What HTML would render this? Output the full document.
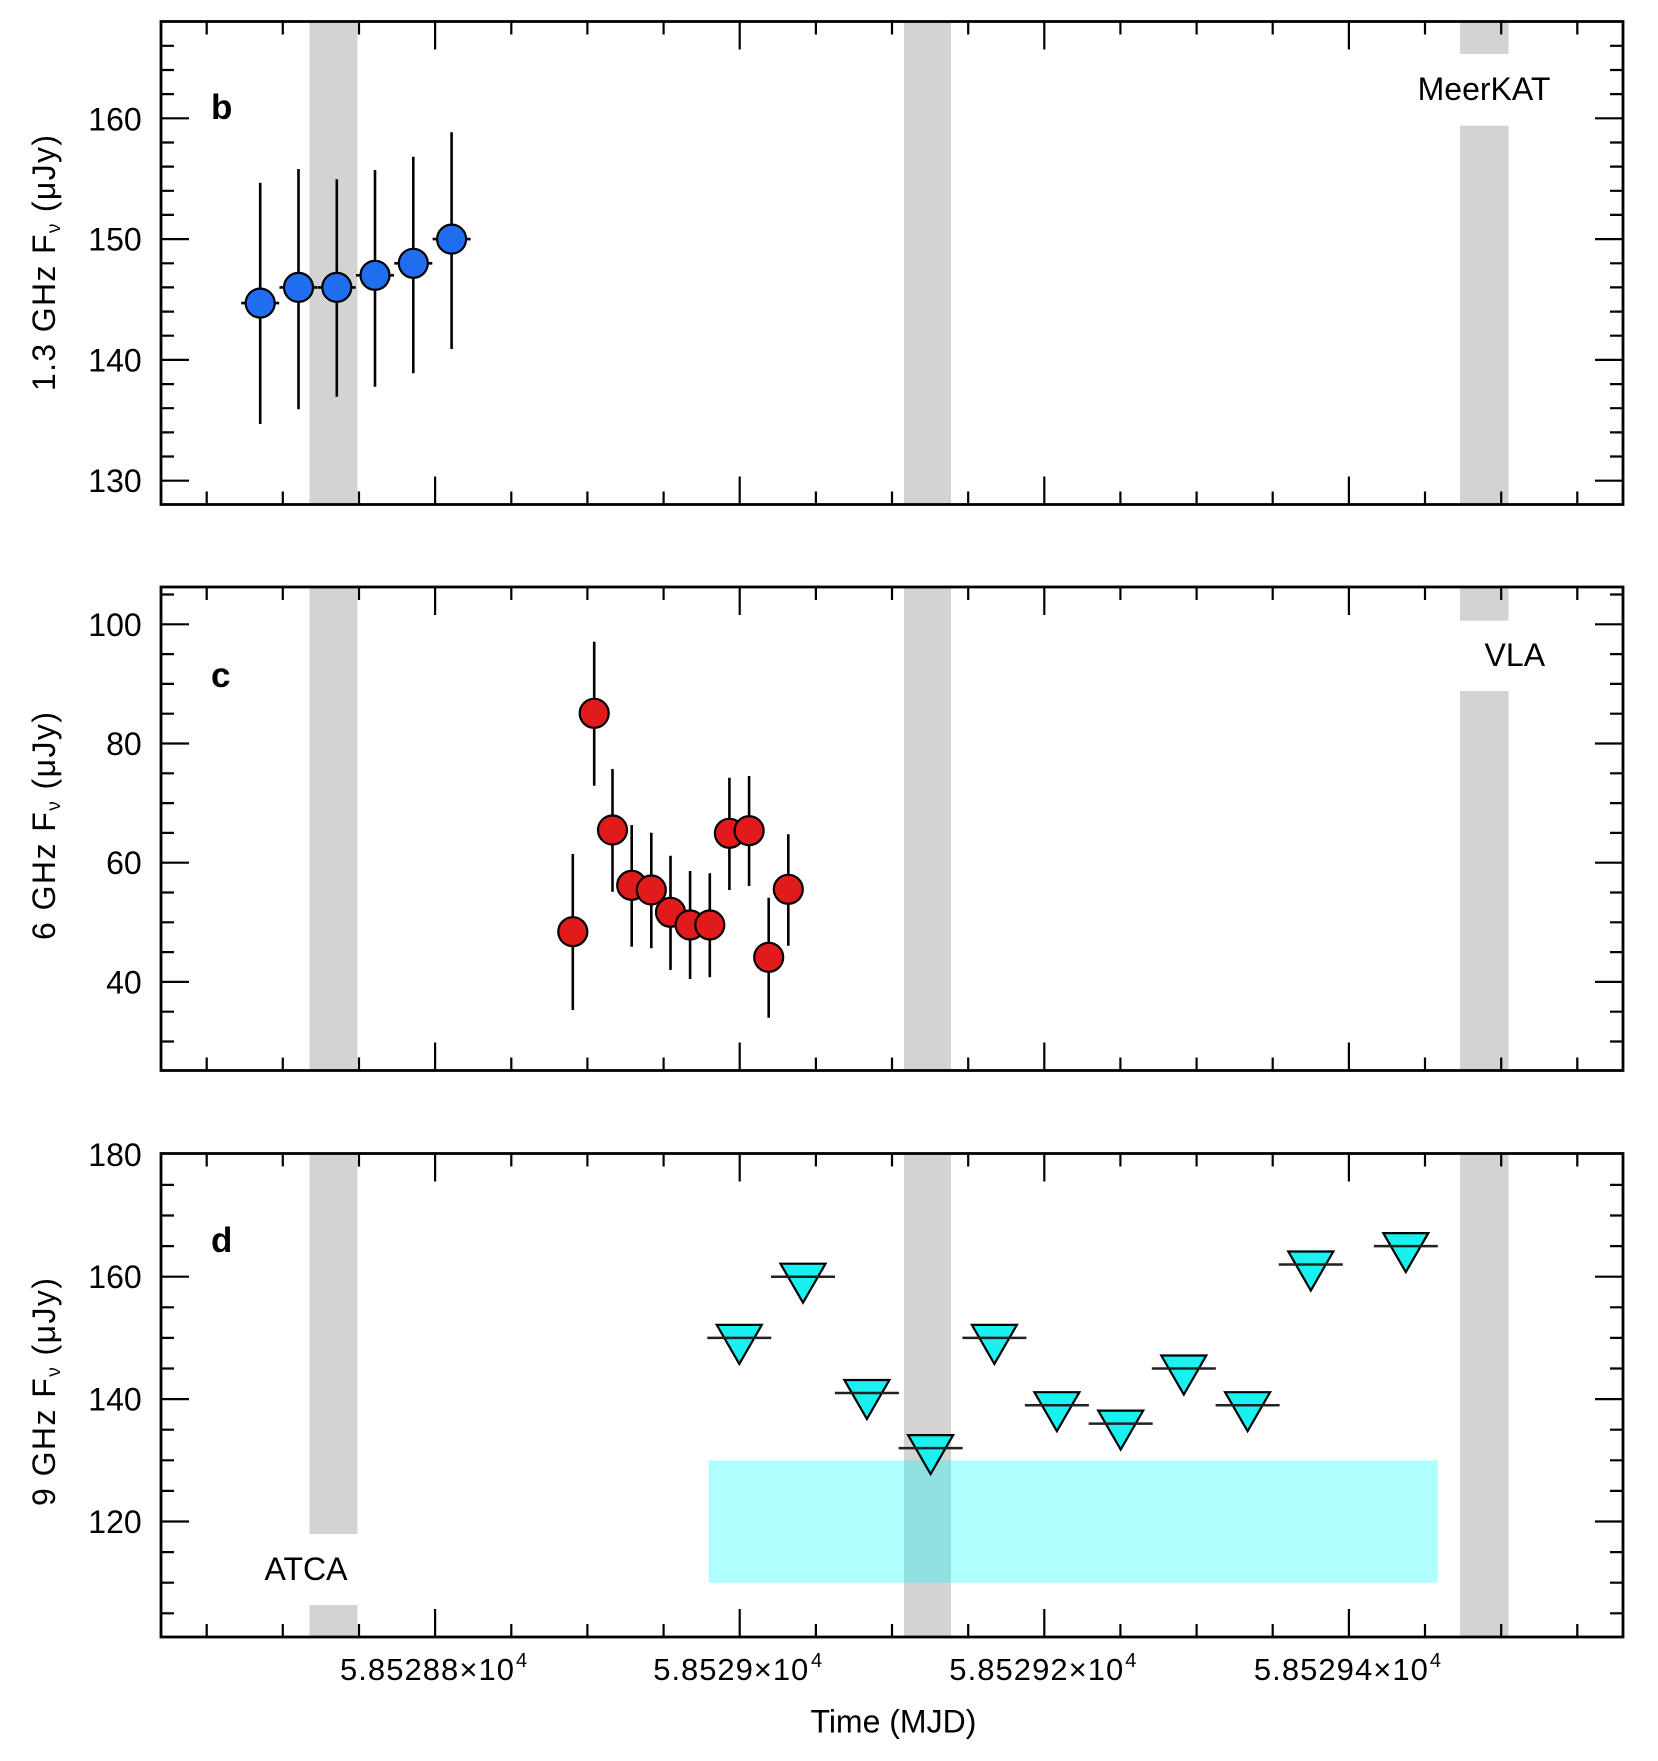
<!DOCTYPE html>
<html>
<head>
<meta charset="utf-8">
<style>
  html, body { margin: 0; padding: 0; background: #ffffff; }
  svg { display: block; }
  text { font-family: "Liberation Sans", Arial, sans-serif; fill: #000; }
</style>
</head>
<body>
<svg width="1658" height="1761" viewBox="0 0 1658 1761" xmlns="http://www.w3.org/2000/svg">
  <defs>
    <path id="xt" fill="none" stroke="#000" stroke-width="2.2" d="M206.7 0v13M282.8 0v13M359 0v13M435.1 0v28M511.3 0v13M587.4 0v13M663.6 0v13M739.7 0v28M815.9 0v13M892 0v13M968.2 0v13M1044.3 0v28M1120.4 0v13M1196.6 0v13M1272.7 0v13M1348.9 0v28M1425 0v13M1501.2 0v13M1577.3 0v13"/>
    <path id="yb" fill="none" stroke="#000" stroke-width="2.2" d="M0 480.7h28M0 456.5h13M0 432.4h13M0 408.2h13M0 384.1h13M0 359.9h28M0 335.7h13M0 311.6h13M0 287.4h13M0 263.3h13M0 239.1h28M0 214.9h13M0 190.8h13M0 166.6h13M0 142.5h13M0 118.3h28M0 94.1h13M0 70h13M0 45.8h13"/>
    <path id="yc" fill="none" stroke="#000" stroke-width="2.2" d="M0 1041.5h13M0 1011.7h13M0 981.9h28M0 952.1h13M0 922.3h13M0 892.5h13M0 862.7h28M0 832.9h13M0 803.1h13M0 773.3h13M0 743.5h28M0 713.7h13M0 683.9h13M0 654.1h13M0 624.3h28M0 594.5h13"/>
    <path id="yd" fill="none" stroke="#000" stroke-width="2.2" d="M0 1613.3h13M0 1582.7h13M0 1552.1h13M0 1521.5h28M0 1490.9h13M0 1460.3h13M0 1429.7h13M0 1399.1h28M0 1368.5h13M0 1337.9h13M0 1307.3h13M0 1276.7h28M0 1246.1h13M0 1215.5h13M0 1184.9h13"/>
  </defs>

  <!-- ================= PANEL b ================= -->
  <g fill="#d3d3d3">
    <rect x="309.5" y="21.5" width="48" height="483"/>
    <rect x="904" y="21.5" width="47" height="483"/>
    <rect x="1460" y="21.5" width="48.5" height="32.5"/>
    <rect x="1460" y="125.7" width="48.5" height="378.8"/>
  </g>
  <text x="1484" y="100" font-size="32" text-anchor="middle">MeerKAT</text>
  <g stroke="#000" stroke-width="2.6" fill="none">
    <path d="M260.2 182.7V424M241.2 303.1h38"/>
    <path d="M298.5 169V409.3M279.5 287.4h38"/>
    <path d="M336.8 179.3V396.7M317.8 287.4h38"/>
    <path d="M375 170V386.7M356 275.3h38"/>
    <path d="M413.3 156.7V373.3M394.3 263.3h38"/>
    <path d="M451.6 132.3V349M432.6 239.1h38"/>
  </g>
  <g fill="#1f6ef0" stroke="#000" stroke-width="2.2">
    <circle cx="260.2" cy="303.1" r="14.5"/>
    <circle cx="298.5" cy="287.4" r="14.5"/>
    <circle cx="336.8" cy="287.4" r="14.5"/>
    <circle cx="375" cy="275.3" r="14.5"/>
    <circle cx="413.3" cy="263.3" r="14.5"/>
    <circle cx="451.6" cy="239.1" r="14.5"/>
  </g>
  <use href="#xt" transform="translate(0,21.5)"/>
  <use href="#xt" transform="translate(0,504.5) scale(1,-1)"/>
  <use href="#yb" transform="translate(161,0)"/>
  <use href="#yb" transform="translate(1623,0) scale(-1,1)"/>
  <rect x="161" y="21.5" width="1462" height="483" fill="none" stroke="#000" stroke-width="2.8"/>
  <text x="211" y="119" font-size="35" font-weight="bold">b</text>
  <g font-size="32" text-anchor="end">
    <text x="141.7" y="492.2">130</text>
    <text x="141.7" y="371.4">140</text>
    <text x="141.7" y="250.6">150</text>
    <text x="141.7" y="130.5">160</text>
  </g>
  <text transform="translate(55,263) rotate(-90)" font-size="32" text-anchor="middle" textLength="256" lengthAdjust="spacing">1.3 GHz F<tspan font-size="19" dy="5">ν</tspan><tspan dy="-5"> (μJy)</tspan></text>

  <!-- ================= PANEL c ================= -->
  <g fill="#d3d3d3">
    <rect x="309.5" y="587" width="48" height="483.5"/>
    <rect x="904" y="587" width="47" height="483.5"/>
    <rect x="1460" y="587" width="48.5" height="33.7"/>
    <rect x="1460" y="691" width="48.5" height="379.5"/>
  </g>
  <text x="1514.8" y="666" font-size="32" text-anchor="middle">VLA</text>
  <g stroke="#000" stroke-width="2.6" fill="none">
    <path d="M572.8 854V1010"/>
    <path d="M594.2 641.7V785.7"/>
    <path d="M612.5 769V891.7"/>
    <path d="M631.7 825V946.7"/>
    <path d="M651.3 832.7V948.3"/>
    <path d="M670.5 855.7V970"/>
    <path d="M690.1 871V979"/>
    <path d="M709.8 873.3V977.3"/>
    <path d="M729.4 777.7V890"/>
    <path d="M749.1 776V886"/>
    <path d="M768.7 897.7V1017.7"/>
    <path d="M788.3 834.3V945.7"/>
  </g>
  <g fill="#e11b1b" stroke="#000" stroke-width="2.2">
    <circle cx="572.8" cy="931.7" r="14.5"/>
    <circle cx="594.2" cy="713.3" r="14.5"/>
    <circle cx="612.5" cy="830" r="14.5"/>
    <circle cx="631.7" cy="885.3" r="14.5"/>
    <circle cx="651.3" cy="890" r="14.5"/>
    <circle cx="670.5" cy="912.3" r="14.5"/>
    <circle cx="690.1" cy="925" r="14.5"/>
    <circle cx="709.8" cy="925" r="14.5"/>
    <circle cx="729.4" cy="833.3" r="14.5"/>
    <circle cx="749.1" cy="830.7" r="14.5"/>
    <circle cx="768.7" cy="957.3" r="14.5"/>
    <circle cx="788.3" cy="889.3" r="14.5"/>
  </g>
  <use href="#xt" transform="translate(0,587)"/>
  <use href="#xt" transform="translate(0,1070.5) scale(1,-1)"/>
  <use href="#yc" transform="translate(161,0)"/>
  <use href="#yc" transform="translate(1623,0) scale(-1,1)"/>
  <rect x="161" y="587" width="1462" height="483.5" fill="none" stroke="#000" stroke-width="2.8"/>
  <text x="211" y="687" font-size="35" font-weight="bold">c</text>
  <g font-size="32" text-anchor="end">
    <text x="141.7" y="993.4">40</text>
    <text x="141.7" y="874.2">60</text>
    <text x="141.7" y="755">80</text>
    <text x="141.7" y="635.8">100</text>
  </g>
  <text transform="translate(55,826) rotate(-90)" font-size="32" text-anchor="middle" textLength="228" lengthAdjust="spacing">6 GHz F<tspan font-size="19" dy="5">ν</tspan><tspan dy="-5"> (μJy)</tspan></text>

  <!-- ================= PANEL d ================= -->
  <g fill="#d3d3d3">
    <rect x="309.5" y="1153.5" width="48" height="380.5"/>
    <rect x="309.5" y="1605" width="48" height="32"/>
    <rect x="904" y="1153.5" width="47" height="483.5"/>
    <rect x="1460" y="1153.5" width="48.5" height="483.5"/>
  </g>
  <rect x="708.7" y="1460.3" width="729" height="122.4" fill="#00ffff" fill-opacity="0.31"/>
  <text x="306" y="1580" font-size="32" text-anchor="middle">ATCA</text>
  <g fill="#19f0f0" stroke="#000" stroke-width="2.2" stroke-linejoin="miter">
    <path d="M716.8 1324.9H761.8L739.3 1363.9Z"/>
    <path d="M780.5 1263.7H825.5L803 1302.7Z"/>
    <path d="M844.4 1380H889.4L866.9 1419Z"/>
    <path d="M908.1 1435.1H953.1L930.6 1474.1Z"/>
    <path d="M971.9 1324.9H1016.9L994.4 1363.9Z"/>
    <path d="M1034.4 1392.2H1079.4L1056.9 1431.2Z"/>
    <path d="M1098.2 1410.6H1143.2L1120.7 1449.6Z"/>
    <path d="M1161.3 1355.5H1206.3L1183.8 1394.5Z"/>
    <path d="M1225.1 1392.2H1270.1L1247.6 1431.2Z"/>
    <path d="M1288.3 1251.5H1333.3L1310.8 1290.5Z"/>
    <path d="M1383.3 1233.1H1428.3L1405.8 1272.1Z"/>
  </g>
  <g stroke="#222" stroke-width="2.5" fill="none">
    <path d="M707.3 1337.9h64"/>
    <path d="M771 1276.7h64"/>
    <path d="M834.9 1393h64"/>
    <path d="M898.6 1448.1h64"/>
    <path d="M962.4 1337.9h64"/>
    <path d="M1024.9 1405.2h64"/>
    <path d="M1088.7 1423.6h64"/>
    <path d="M1151.8 1368.5h64"/>
    <path d="M1215.6 1405.2h64"/>
    <path d="M1278.8 1264.5h64"/>
    <path d="M1373.8 1246.1h64"/>
  </g>
  <use href="#xt" transform="translate(0,1153.5)"/>
  <use href="#xt" transform="translate(0,1637) scale(1,-1)"/>
  <use href="#yd" transform="translate(161,0)"/>
  <use href="#yd" transform="translate(1623,0) scale(-1,1)"/>
  <rect x="161" y="1153.5" width="1462" height="483.5" fill="none" stroke="#000" stroke-width="2.8"/>
  <text x="211" y="1252" font-size="35" font-weight="bold">d</text>
  <g font-size="32" text-anchor="end">
    <text x="141.7" y="1533">120</text>
    <text x="141.7" y="1410.6">140</text>
    <text x="141.7" y="1288.2">160</text>
    <text x="141.7" y="1165.8">180</text>
  </g>
  <text transform="translate(55,1392) rotate(-90)" font-size="32" text-anchor="middle" textLength="228" lengthAdjust="spacing">9 GHz F<tspan font-size="19" dy="5">ν</tspan><tspan dy="-5"> (μJy)</tspan></text>

  <!-- x tick labels -->
  <g font-size="31">
    <text x="340" y="1680" textLength="174" lengthAdjust="spacing">5.85288×10</text>
    <text x="516" y="1667" font-size="20">4</text>
    <text x="653.3" y="1680" textLength="155" lengthAdjust="spacing">5.8529×10</text>
    <text x="811" y="1667" font-size="20">4</text>
    <text x="949.3" y="1680" textLength="174" lengthAdjust="spacing">5.85292×10</text>
    <text x="1125.3" y="1667" font-size="20">4</text>
    <text x="1253.9" y="1680" textLength="174" lengthAdjust="spacing">5.85294×10</text>
    <text x="1429.9" y="1667" font-size="20">4</text>
  </g>
  <text x="893.4" y="1732.7" font-size="32" text-anchor="middle">Time (MJD)</text>
</svg>
</body>
</html>
